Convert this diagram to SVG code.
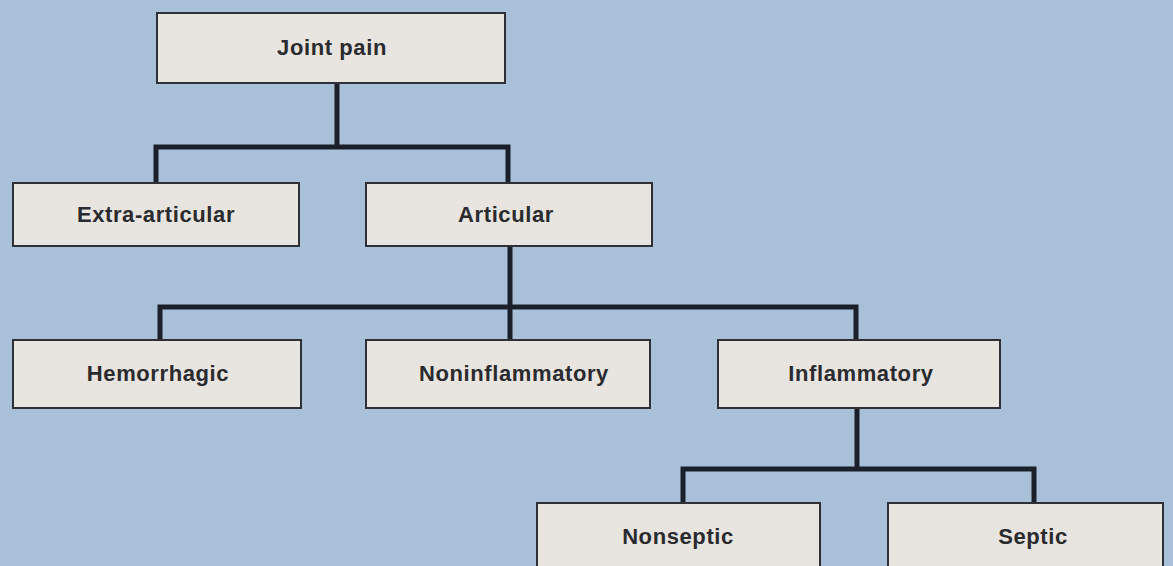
<svg xmlns="http://www.w3.org/2000/svg" width="1173" height="566" viewBox="0 0 1173 566">
<style>
.box{fill:#e8e4df;stroke:#2e3036;stroke-width:2}
.lbl{font-family:"Liberation Sans",Arial,sans-serif;font-weight:bold;font-size:22px;letter-spacing:0.6px;fill:#2a2b2e;text-anchor:middle}
.con{fill:none;stroke:#1b1f2a;stroke-width:5;stroke-linejoin:miter}
</style>
<rect width="1173" height="566" fill="#a8c0d8"/>
<g id="connectors">
<path class="con" d="M337 83V147M156 183V147H508V183"/>
<path class="con" d="M510 246V307M160 340V307H856V340M510 307V340"/>
<path class="con" d="M857 408V469M683 503V469H1034V503"/>
</g>
<g id="joint-pain"><rect class="box" x="157" y="13" width="348" height="70"/><text class="lbl" x="332" y="55">Joint pain</text></g>
<g id="extra-articular"><rect class="box" x="13" y="183" width="286" height="63"/><text class="lbl" x="156" y="222">Extra-articular</text></g>
<g id="articular"><rect class="box" x="366" y="183" width="286" height="63"/><text class="lbl" x="506" y="222">Articular</text></g>
<g id="hemorrhagic"><rect class="box" x="13" y="340" width="288" height="68"/><text class="lbl" x="158" y="381">Hemorrhagic</text></g>
<g id="noninflammatory"><rect class="box" x="366" y="340" width="284" height="68"/><text class="lbl" x="514" y="381">Noninflammatory</text></g>
<g id="inflammatory"><rect class="box" x="718" y="340" width="282" height="68"/><text class="lbl" x="861" y="381">Inflammatory</text></g>
<g id="nonseptic"><rect class="box" x="537" y="503" width="283" height="70"/><text class="lbl" x="678" y="544">Nonseptic</text></g>
<g id="septic"><rect class="box" x="888" y="503" width="275" height="70"/><text class="lbl" x="1033" y="544">Septic</text></g>
</svg>
